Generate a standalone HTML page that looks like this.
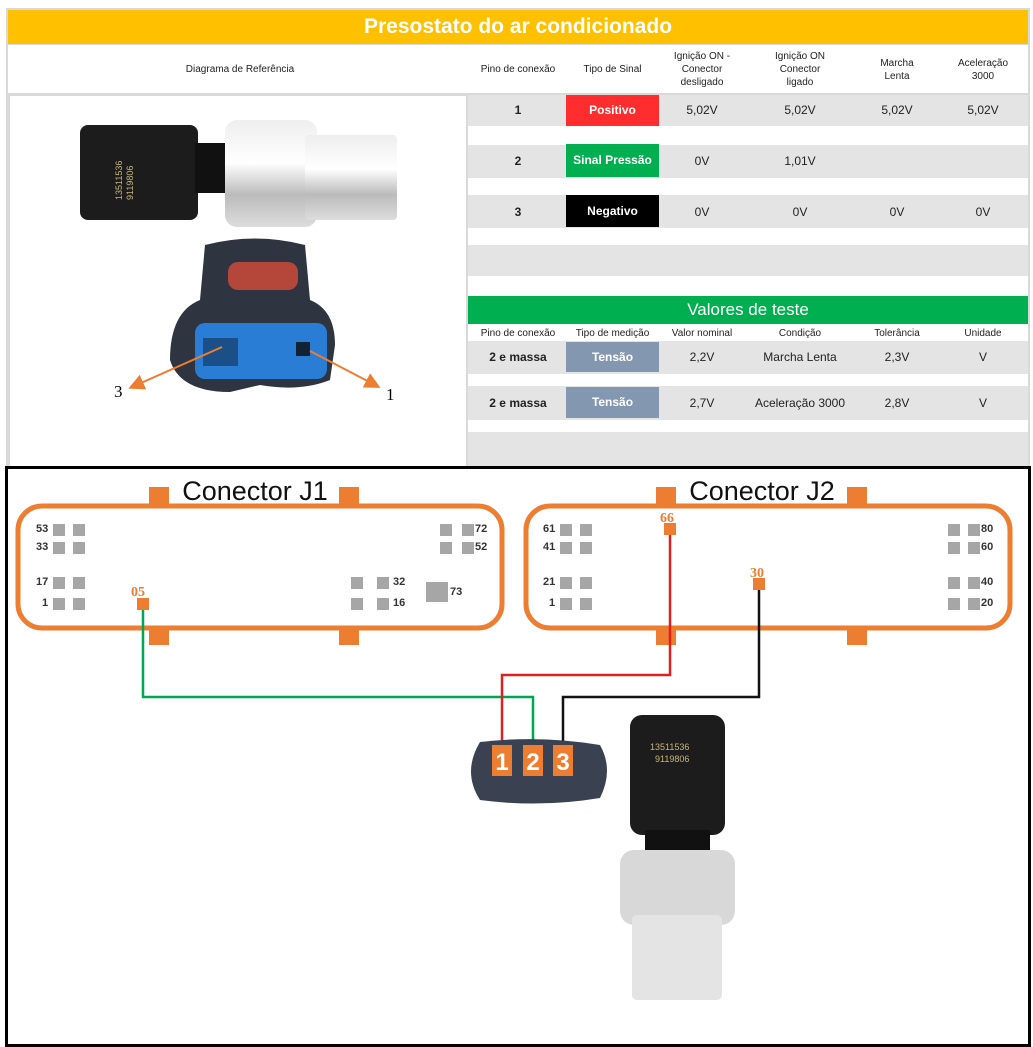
<!DOCTYPE html>
<html><head><meta charset="utf-8"><style>
body{margin:0;width:1033px;height:1047px;background:#fff;position:relative;overflow:hidden;font-family:"Liberation Sans",sans-serif}
.a{position:absolute}
.g{background:#e4e4e4}
.t{position:absolute;text-align:center;font-size:12px;color:#222}
.h{font-size:10px;line-height:13px;color:#222}
.b{position:absolute;color:#fff;font-weight:bold;font-size:12px;text-align:center}
.p{position:absolute;width:12px;height:12px;background:#a6a6a6}
.l{position:absolute;font-size:11px;font-weight:bold;color:#333}
</style></head><body>
<div class="a" style="left:6px;top:8px;width:1024px;height:460px;background:#d9d9d9"></div>
<div class="a" style="left:8px;top:10px;width:1020px;height:34px;background:#ffc000;color:#fff;font-weight:bold;font-size:21px;text-align:center;line-height:34px">Presostato do ar condicionado</div>
<div class="a" style="left:8px;top:45px;width:1020px;height:48px;background:#fff"></div>
<div class="t h" style="left:140px;top:63px;width:200px">Diagrama de Referência</div>
<div class="t h" style="left:468px;top:63px;width:100px">Pino de conexão</div>
<div class="t h" style="left:566px;top:63px;width:93px">Tipo de Sinal</div>
<div class="t h" style="left:660px;top:50px;width:84px">Ignição ON -<br>Conector<br>desligado</div>
<div class="t h" style="left:755px;top:50px;width:90px">Ignição ON<br>Conector<br>ligado</div>
<div class="t h" style="left:855px;top:57px;width:84px">Marcha<br>Lenta</div>
<div class="t h" style="left:940px;top:57px;width:86px">Aceleração<br>3000</div>
<div class="a" style="left:10px;top:96px;width:456px;height:370px;background:#fff"></div>
<div class="a" style="left:468px;top:96px;width:560px;height:370px;background:#fff"></div>
<div class="a g" style="left:468px;top:95px;width:560px;height:31px"></div>
<div class="a g" style="left:468px;top:145px;width:560px;height:33px"></div>
<div class="a g" style="left:468px;top:195px;width:560px;height:33px"></div>
<div class="a g" style="left:468px;top:245px;width:560px;height:31px"></div>
<div class="a g" style="left:468px;top:341px;width:560px;height:33px"></div>
<div class="a g" style="left:468px;top:386px;width:560px;height:34px"></div>
<div class="a g" style="left:468px;top:432px;width:560px;height:34px"></div>
<div class="b" style="left:566px;top:95px;width:93px;height:31px;line-height:31px;background:#ff2d2d">Positivo</div>
<div class="b" style="left:566px;top:144px;width:93px;height:33px;line-height:33px;background:#00b050">Sinal Pressão</div>
<div class="b" style="left:566px;top:195px;width:93px;height:32px;line-height:32px;background:#000">Negativo</div>
<div class="t" style="left:468px;top:103px;width:100px;font-weight:bold">1</div>
<div class="t" style="left:468px;top:154px;width:100px;font-weight:bold">2</div>
<div class="t" style="left:468px;top:205px;width:100px;font-weight:bold">3</div>
<div class="t" style="left:660px;top:103px;width:84px">5,02V</div>
<div class="t" style="left:755px;top:103px;width:90px">5,02V</div>
<div class="t" style="left:855px;top:103px;width:84px">5,02V</div>
<div class="t" style="left:940px;top:103px;width:86px">5,02V</div>
<div class="t" style="left:660px;top:154px;width:84px">0V</div>
<div class="t" style="left:755px;top:154px;width:90px">1,01V</div>
<div class="t" style="left:660px;top:205px;width:84px">0V</div>
<div class="t" style="left:755px;top:205px;width:90px">0V</div>
<div class="t" style="left:855px;top:205px;width:84px">0V</div>
<div class="t" style="left:940px;top:205px;width:86px">0V</div>
<div class="a" style="left:468px;top:296px;width:560px;height:28px;background:#00b050;color:#fff;font-size:17px;text-align:center;line-height:28px">Valores de teste</div>
<div class="t h" style="left:468px;top:327px;width:100px">Pino de conexão</div>
<div class="t h" style="left:566px;top:327px;width:93px">Tipo de medição</div>
<div class="t h" style="left:660px;top:327px;width:84px">Valor nominal</div>
<div class="t h" style="left:755px;top:327px;width:90px">Condição</div>
<div class="t h" style="left:855px;top:327px;width:84px">Tolerância</div>
<div class="t h" style="left:940px;top:327px;width:86px">Unidade</div>
<div class="b" style="left:566px;top:342px;width:93px;height:30px;line-height:30px;background:#8497b0">Tensão</div>
<div class="b" style="left:566px;top:387px;width:93px;height:31px;line-height:31px;background:#8497b0">Tensão</div>
<div class="t" style="left:468px;top:350px;width:100px;font-weight:bold">2 e massa</div>
<div class="t" style="left:468px;top:396px;width:100px;font-weight:bold">2 e massa</div>
<div class="t" style="left:660px;top:350px;width:84px">2,2V</div>
<div class="t" style="left:660px;top:396px;width:84px">2,7V</div>
<div class="t" style="left:745px;top:350px;width:110px">Marcha Lenta</div>
<div class="t" style="left:745px;top:396px;width:110px">Aceleração 3000</div>
<div class="t" style="left:855px;top:350px;width:84px">2,3V</div>
<div class="t" style="left:855px;top:396px;width:84px">2,8V</div>
<div class="t" style="left:940px;top:350px;width:86px">V</div>
<div class="t" style="left:940px;top:396px;width:86px">V</div>

<svg class="a" style="left:0;top:0" width="466" height="466">
<defs><linearGradient id="s" x1="0" y1="0" x2="0" y2="1"><stop offset="0" stop-color="#eee"/><stop offset=".4" stop-color="#fff"/><stop offset=".7" stop-color="#bbb"/><stop offset="1" stop-color="#ddd"/></linearGradient>
<marker id="ar" markerWidth="8" markerHeight="8" refX="6" refY="4" orient="auto"><path d="M0,0L8,4L0,8z" fill="#ed7d31"/></marker></defs>
<rect x="80" y="125" width="118" height="95" rx="8" fill="#1c1c1c"/>
<rect x="195" y="143" width="35" height="50" fill="#111"/>
<rect x="225" y="120" width="92" height="107" rx="12" fill="url(#s)"/>
<rect x="305" y="135" width="92" height="85" rx="4" fill="url(#s)"/>
<text x="122" y="200" transform="rotate(-90 122 200)" font-size="9" fill="#c9b57a">13511536</text>
<text x="133" y="200" transform="rotate(-90 133 200)" font-size="9" fill="#c9b57a">9119806</text>
<path d="M205,245 Q255,232 305,245 L310,300 Q335,310 335,345 L330,380 Q300,392 260,385 L230,392 Q180,392 170,360 Q170,312 200,300z" fill="#2e3540"/>
<rect x="228" y="262" width="70" height="28" rx="10" fill="#b5473a"/>
<rect x="195" y="323" width="132" height="56" rx="10" fill="#2a7dd4"/>
<rect x="203" y="338" width="35" height="28" fill="#1b4f88"/>
<rect x="296" y="342" width="14" height="14" fill="#123"/>
<line x1="222" y1="347" x2="132" y2="387" stroke="#ed7d31" stroke-width="2" marker-end="url(#ar)"/>
<line x1="310" y1="351" x2="377" y2="386" stroke="#ed7d31" stroke-width="2" marker-end="url(#ar)"/>
<text x="114" y="397" font-size="17" font-family="Liberation Serif">3</text>
<text x="386" y="400" font-size="17" font-family="Liberation Serif">1</text>
</svg>

<div class="a" style="left:5px;top:466px;width:1020px;height:575px;border:3px solid #000;background:#fff"></div>
<svg class="a" style="left:0;top:0" width="1033" height="1047">
<g fill="#ed7d31">
<rect x="149" y="487" width="20" height="20"/><rect x="339" y="487" width="20" height="20"/>
<rect x="149" y="628" width="20" height="17"/><rect x="339" y="628" width="20" height="17"/>
<rect x="656" y="487" width="20" height="20"/><rect x="847" y="487" width="20" height="20"/>
<rect x="656" y="628" width="20" height="17"/><rect x="847" y="628" width="20" height="17"/>
</g>
<rect x="18" y="506" width="484" height="122" rx="24" fill="none" stroke="#ed7d31" stroke-width="5"/>
<rect x="526" y="506" width="484" height="122" rx="24" fill="none" stroke="#ed7d31" stroke-width="5"/>
<text x="255" y="500" font-size="27" text-anchor="middle" fill="#111">Conector J1</text>
<text x="762" y="500" font-size="27" text-anchor="middle" fill="#111">Conector J2</text>
<polyline points="143,610 143,697 533,697 533,742" fill="none" stroke="#00a651" stroke-width="2.5"/>
<polyline points="670,535 670,675 502,675 502,742" fill="none" stroke="#e02020" stroke-width="2.5"/>
<polyline points="759,590 759,697 563,697 563,742" fill="none" stroke="#111" stroke-width="2.5"/>
<rect x="137" y="598" width="12" height="12" fill="#ed7d31"/>
<rect x="664" y="523" width="12" height="12" fill="#ed7d31"/>
<rect x="753" y="578" width="12" height="12" fill="#ed7d31"/>
<text x="131" y="596" font-size="14" font-weight="bold" fill="#ed7d31" font-family="Liberation Serif">05</text>
<text x="660" y="522" font-size="14" font-weight="bold" fill="#ed7d31" font-family="Liberation Serif">66</text>
<text x="750" y="577" font-size="14" font-weight="bold" fill="#ed7d31" font-family="Liberation Serif">30</text>
<path d="M480,742 Q540,735 600,745 Q614,770 600,798 Q540,808 480,800 Q462,772 480,742z" fill="#3a4150"/>
<g fill="#ed7d31"><rect x="492" y="745" width="20" height="31"/><rect x="523" y="745" width="20" height="31"/><rect x="553" y="745" width="20" height="31"/></g>
<g fill="#fff" font-size="24" font-weight="bold" text-anchor="middle"><text x="502" y="770">1</text><text x="533" y="770">2</text><text x="563" y="770">3</text></g>
<rect x="630" y="715" width="95" height="120" rx="12" fill="#1c1c1c"/>
<rect x="645" y="830" width="65" height="25" fill="#111"/>
<text x="650" y="750" font-size="9" fill="#c9b57a">13511536</text>
<text x="655" y="762" font-size="9" fill="#c9b57a">9119806</text>
<rect x="620" y="850" width="115" height="75" rx="14" fill="#d8d8d8"/>
<rect x="632" y="915" width="90" height="85" rx="5" fill="#e4e4e4"/>
</svg>
<div class="p" style="left:53px;top:524px"></div><div class="p" style="left:73px;top:524px"></div>
<div class="p" style="left:53px;top:542px"></div><div class="p" style="left:73px;top:542px"></div>
<div class="p" style="left:53px;top:577px"></div><div class="p" style="left:73px;top:577px"></div>
<div class="p" style="left:53px;top:598px"></div><div class="p" style="left:73px;top:598px"></div>
<div class="p" style="left:440px;top:524px"></div><div class="p" style="left:462px;top:524px"></div>
<div class="p" style="left:440px;top:542px"></div><div class="p" style="left:462px;top:542px"></div>
<div class="p" style="left:351px;top:577px"></div><div class="p" style="left:377px;top:577px"></div>
<div class="p" style="left:351px;top:598px"></div><div class="p" style="left:377px;top:598px"></div>
<div class="p" style="left:426px;top:582px;width:22px;height:20px"></div>
<div class="l" style="left:36px;top:523px">53</div><div class="l" style="left:36px;top:541px">33</div>
<div class="l" style="left:36px;top:576px">17</div><div class="l" style="left:42px;top:597px">1</div>
<div class="l" style="left:475px;top:523px">72</div><div class="l" style="left:475px;top:541px">52</div>
<div class="l" style="left:393px;top:576px">32</div><div class="l" style="left:393px;top:597px">16</div>
<div class="l" style="left:450px;top:586px">73</div>
<div class="p" style="left:560px;top:524px"></div><div class="p" style="left:580px;top:524px"></div>
<div class="p" style="left:560px;top:542px"></div><div class="p" style="left:580px;top:542px"></div>
<div class="p" style="left:560px;top:577px"></div><div class="p" style="left:580px;top:577px"></div>
<div class="p" style="left:560px;top:598px"></div><div class="p" style="left:580px;top:598px"></div>
<div class="p" style="left:948px;top:524px"></div><div class="p" style="left:968px;top:524px"></div>
<div class="p" style="left:948px;top:542px"></div><div class="p" style="left:968px;top:542px"></div>
<div class="p" style="left:948px;top:577px"></div><div class="p" style="left:968px;top:577px"></div>
<div class="p" style="left:948px;top:598px"></div><div class="p" style="left:968px;top:598px"></div>
<div class="l" style="left:543px;top:523px">61</div><div class="l" style="left:543px;top:541px">41</div>
<div class="l" style="left:543px;top:576px">21</div><div class="l" style="left:549px;top:597px">1</div>
<div class="l" style="left:981px;top:523px">80</div><div class="l" style="left:981px;top:541px">60</div>
<div class="l" style="left:981px;top:576px">40</div><div class="l" style="left:981px;top:597px">20</div>
</body></html>
